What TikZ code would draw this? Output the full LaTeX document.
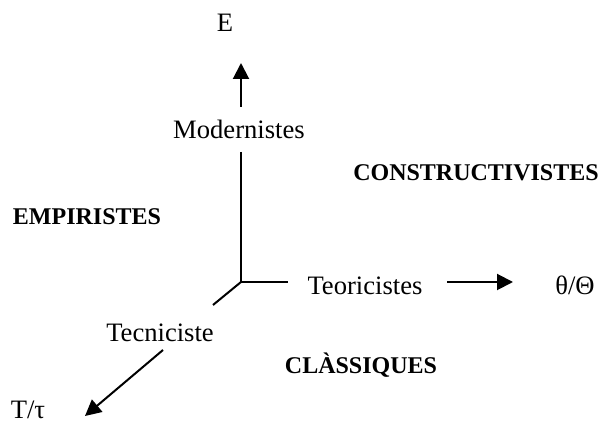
\documentclass[tikz,border=0pt]{standalone}
\usepackage{fontspec}
\setmainfont{Liberation Serif}
\usetikzlibrary{arrows.meta}
\begin{document}
\begin{tikzpicture}[x=0.5pt,y=-0.5pt,
  lbl/.style={anchor=base,inner sep=0pt,font=\fontsize{13.3}{16}\selectfont},
  zone/.style={anchor=base,inner sep=0pt,font=\fontsize{12}{14}\selectfont\bfseries},
  axis/.style={line width=1pt},
  arr/.style={line width=1pt,-{Triangle[length=8pt,width=8pt]}}]
\useasboundingbox (0,0) rectangle (601,432);
% texts
\node[lbl] (E) at (225,32) {E};
\node[lbl] (mod) at (239,139) {Modernistes};
\node[lbl] (teo) at (365,295) {Teoricistes};
\node[lbl] (theta) at (575,295) {θ/Θ};
\node[lbl] (tec) at (160,342) {Tecniciste};
\node[lbl] (tau) at (28,419) {T/τ};
\node[zone] (emp) at (87,225) {EMPIRISTES};
\node[zone] (cons) at (476,181) {CONSTRUCTIVISTES};
\node[zone] (clas) at (361,374) {CLÀSSIQUES};
% axis points
\coordinate (o) at (241,282);
\coordinate (vtop) at (241,152);
\coordinate (up0) at (241,107);
\coordinate (up1) at (241,63);
\coordinate (hend) at (288,282);
\coordinate (r0) at (447,282);
\coordinate (r1) at (513,282);
\coordinate (dend) at (213,305);
\coordinate (d0) at (163,350);
\coordinate (d1) at (85,416);
% connectors
\draw[axis] (vtop) -- (o) -- (hend);
\draw[axis] (o) -- (dend);
\draw[arr] (up0) -- (up1);
\draw[arr] (r0) -- (r1);
\draw[arr] (d0) -- (d1);
\end{tikzpicture}
\end{document}
